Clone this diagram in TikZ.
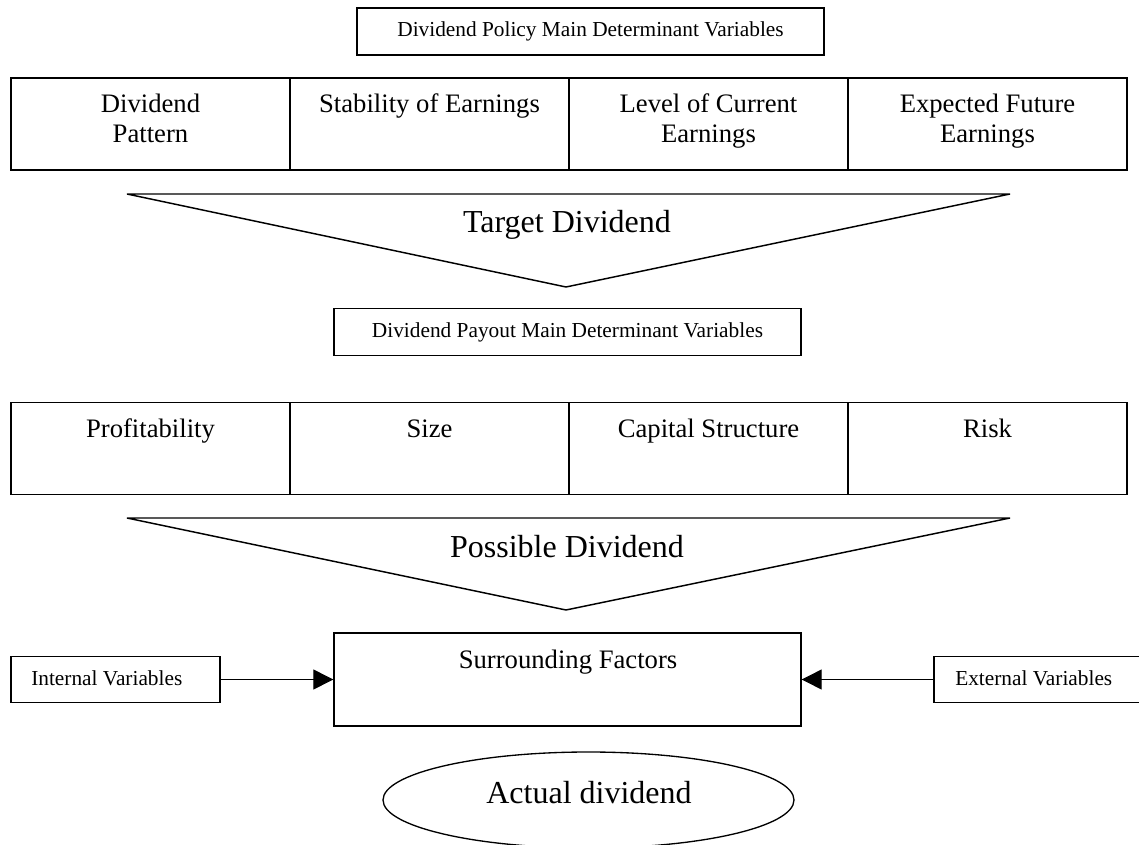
\documentclass[tikz,border=0pt]{standalone}
\usepackage{fontspec}
\setmainfont{Liberation Serif}
\usetikzlibrary{arrows.meta,shapes.geometric}
\begin{document}
\begin{tikzpicture}[x=0.75pt,y=-0.75pt,
  boxline/.style={draw, line width=1pt, inner sep=0pt},
  titlebox/.style={boxline, minimum width=467*0.75pt, minimum height=47*0.75pt, font=\smallfont},
  cell/.style={boxline, minimum width=279*0.75pt, minimum height=92*0.75pt},
  celltext/.style={inner sep=0pt, anchor=base, align=center, font=\fontsize{20}{22.5}\selectfont},
  bigtext/.style={inner sep=0pt, anchor=base, font=\fontsize{24}{28}\selectfont},
  sidebox/.style={boxline, minimum width=209*0.75pt, minimum height=46*0.75pt},
  sidetext/.style={inner sep=0pt, anchor=base west, font=\smallfont},
  funnel/.style={draw, line width=1.1pt, line join=bevel},
  arr/.style={draw, line width=0.8pt, -{Triangle[length=15pt,width=15pt]}},
]
\providecommand{\smallfont}{\fontsize{16}{19}\selectfont}
\useasboundingbox (0,0) rectangle (1139,845);

% top title box
\node[titlebox] (policy) at (590.5,31.5) {Dividend Policy Main Determinant Variables};

% row 1
\node[cell] (c11) at (150.5,124) {};
\node[cell] (c12) at (429.5,124) {};
\node[cell] (c13) at (708.5,124) {};
\node[cell] (c14) at (987.5,124) {};
\node[celltext] (t11) at (150.5,143) {Dividend\\Pattern};
\node[celltext] (t12) at (429.5,113) {Stability of Earnings};
\node[celltext] (t13) at (708.5,143) {Level of Current\\Earnings};
\node[celltext] (t14) at (987.5,143) {Expected Future\\Earnings};

% funnel 1
\coordinate (f1a) at (127,194);
\coordinate (f1b) at (1010,194);
\coordinate (f1c) at (566,287);
\draw[funnel] (f1a) -- (f1b) -- (f1c) -- cycle;
\node[bigtext] (target) at (567,233) {Target Dividend};

% second title box
\node[titlebox] (payout) at (567.5,332) {Dividend Payout Main Determinant Variables};

% row 2
\node[cell] (c21) at (150.5,448.5) {};
\node[cell] (c22) at (429.5,448.5) {};
\node[cell] (c23) at (708.5,448.5) {};
\node[cell] (c24) at (987.5,448.5) {};
\node[celltext] (t21) at (150.5,437) {Profitability};
\node[celltext] (t22) at (429.5,437) {Size};
\node[celltext] (t23) at (708.5,437) {Capital Structure};
\node[celltext] (t24) at (987.5,437) {Risk};

% funnel 2
\coordinate (f2a) at (127,518);
\coordinate (f2b) at (1010,518);
\coordinate (f2c) at (566,610);
\draw[funnel] (f2a) -- (f2b) -- (f2c) -- cycle;
\node[bigtext] (possible) at (567,557) {Possible Dividend};

% surrounding factors
\node[boxline, minimum width=467*0.75pt, minimum height=93*0.75pt] (surr) at (567.5,679.5) {};
\node[celltext] (surrtext) at (568,668) {Surrounding Factors};

% side boxes
\node[sidebox] (internal) at (115.5,679.5) {};
\node[sidetext] (inttext) at (31,685) {Internal Variables};
\node[sidebox] (external) at (1038.5,679.5) {};
\node[sidetext] (exttext) at (955,685) {External Variables};

\draw[arr] (internal.east) -- (internal.east -| surr.west);
\draw[arr] (external.west) -- (external.west -| surr.east);

% actual dividend
\node[draw, ellipse, line width=1pt, minimum width=411*0.75pt, minimum height=96*0.75pt, inner sep=0pt] (actual) at (588.5,800) {};
\node[bigtext] (actualtext) at (589,803) {Actual dividend};
\end{tikzpicture}
\end{document}
